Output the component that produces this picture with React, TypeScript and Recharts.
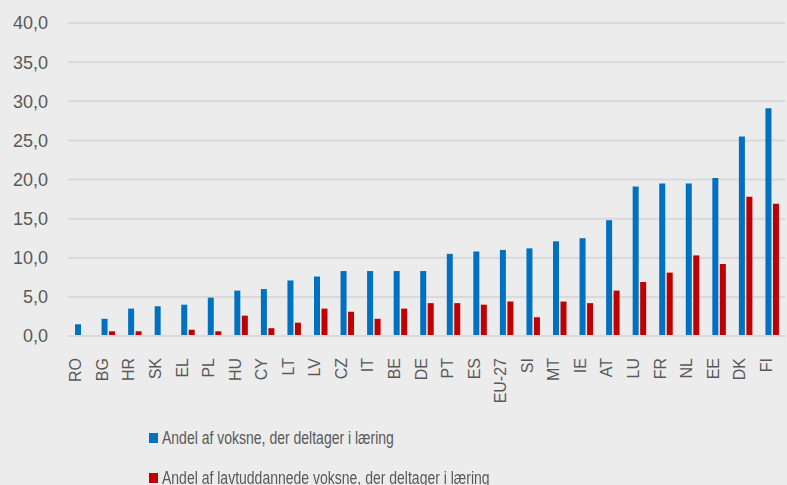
import { Bar, BarChart, CartesianGrid, Legend, XAxis, YAxis } from "recharts";

const countries = [
  "RO", "BG", "HR", "SK", "EL", "PL", "HU", "CY", "LT", "LV", "CZ", "IT", "BE", "DE",
  "PT", "ES", "EU-27", "SI", "MT", "IE", "AT", "LU", "FR", "NL", "EE", "DK", "FI",
];
const adults = [
  1.5, 2.2, 3.5, 3.8, 4.0, 4.9, 5.8, 6.0, 7.1, 7.6, 8.3, 8.3, 8.3, 8.3,
  10.5, 10.8, 11.0, 11.2, 12.1, 12.5, 14.8, 19.1, 19.5, 19.5, 20.2, 25.5, 29.1,
];
const lowEducated = [
  null, 0.6, 0.6, null, 0.8, 0.6, 2.6, 1.0, 1.7, 3.5, 3.1, 2.2, 3.5, 4.2,
  4.2, 4.0, 4.4, 2.4, 4.4, 4.2, 5.8, 6.9, 8.1, 10.3, 9.2, 17.8, 16.9,
];
const yTicks = [0, 5, 10, 15, 20, 25, 30, 35, 40];
const seriesNames = [
  "Andel af voksne, der deltager i læring",
  "Andel af lavtuddannede voksne, der deltager i læring",
];

const data = countries.map((c, i) => ({
  country: c,
  adults: adults[i],
  low: lowEducated[i],
}));

const BLUE = "#0070c0";
const RED = "#c00000";
const TEXT = "#595959";

function CountryTick({ x, y, payload }: any) {
  return (
    <text
      x={x}
      y={y + 14}
      transform={`rotate(-90, ${x}, ${y + 14})`}
      textAnchor="end"
      fill={TEXT}
      fontSize={16}
      fontFamily="'Liberation Sans', Arial, sans-serif"
    >
      {payload.value}
    </text>
  );
}

function ChartLegend() {
  const colors = [BLUE, RED];
  return (
    <div
      style={{
        height: 75,
        boxSizing: "border-box",
        paddingTop: 8,
        paddingLeft: 149,
        fontFamily: "'Liberation Sans', Arial, sans-serif",
      }}
    >
      {seriesNames.map((name, i) => (
        <div
          key={name}
          style={{ display: "flex", alignItems: "center", height: 40, color: TEXT, fontSize: 17.5 }}
        >
          <span style={{ width: 9, height: 10, background: colors[i], marginRight: 4, flexShrink: 0 }} />
          <span style={{ display: "inline-block", transform: "scaleX(0.8)", transformOrigin: "left center", whiteSpace: "nowrap" }}>
            {name}
          </span>
        </div>
      ))}
    </div>
  );
}

export default function App() {
  return (
    <div style={{ position: "fixed", left: 0, top: 0, width: 787, height: 485, background: "#ececec" }}>
      <BarChart
        width={787}
        height={485}
        data={data}
        margin={{ top: 23, right: 2, left: 0, bottom: 0 }}
        barSize={6}
        barGap={1.5}
      >
        <CartesianGrid vertical={false} stroke="#d9d9d9" strokeWidth={2} />
        <XAxis
          dataKey="country"
          interval={0}
          height={74}
          tick={<CountryTick />}
          tickLine={false}
          axisLine={{ stroke: "#d9d9d9", strokeWidth: 2 }}
        />
        <YAxis
          domain={[0, 40]}
          ticks={yTicks}
          width={68}
          axisLine={false}
          tickLine={false}
          tickSize={0}
          tickMargin={20}
          tickFormatter={(v: number) => v.toFixed(1).replace(".", ",")}
          tick={{ fill: TEXT, fontSize: 18, fontFamily: "'Liberation Sans', Arial, sans-serif" }}
        />
        <Legend
          verticalAlign="bottom"
          content={<ChartLegend />}
          wrapperStyle={{ left: 0, width: 787 }}
        />
        <Bar dataKey="adults" name={seriesNames[0]} fill={BLUE} isAnimationActive={false} />
        <Bar dataKey="low" name={seriesNames[1]} fill={RED} isAnimationActive={false} />
      </BarChart>
    </div>
  );
}
